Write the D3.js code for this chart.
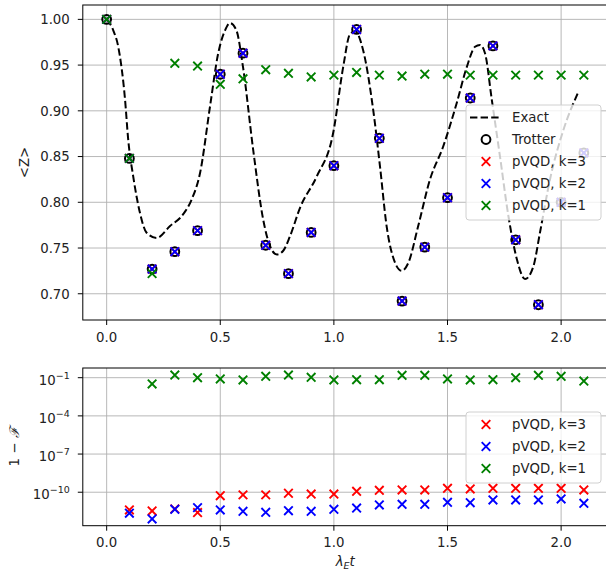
<!DOCTYPE html>
<html>
<head>
<meta charset="utf-8">
<script src="https://cdn.jsdelivr.net/npm/d3@7"></script>
<style>
  body { margin: 0; background: #fff; }
  text { font-family: "DejaVu Sans", sans-serif; fill: #222; }
</style>
</head>
<body>
<script>
'use strict';

// time steps of the simulation
var times = [0, 0.1, 0.2, 0.3, 0.4, 0.5, 0.6, 0.7, 0.8, 0.9, 1.0,
  1.1, 1.2, 1.3, 1.4, 1.5, 1.6, 1.7, 1.8, 1.9, 2.0, 2.1];

// <Z> values (Trotter, and pVQD k=3 / k=2 sit on top of it)
var trotterZ = [1.000, 0.848, 0.727, 0.746, 0.769, 0.940, 0.963, 0.753, 0.722, 0.767, 0.840,
  0.989, 0.870, 0.692, 0.751, 0.805, 0.914, 0.971, 0.759, 0.688, 0.800, 0.854];
var k3Z = trotterZ.slice();
var k2Z = trotterZ.slice();
var k1Z = [1.000, 0.848, 0.722, 0.952, 0.949, 0.929, 0.935, 0.945, 0.941, 0.937, 0.939,
  0.942, 0.939, 0.938, 0.940, 0.940, 0.939, 0.939, 0.939, 0.939, 0.939, 0.939];

// exact curve
var exactT = [0.000, 0.029, 0.051, 0.081, 0.095, 0.117, 0.146, 0.175, 0.220, 0.279, 0.337,
  0.374, 0.411, 0.455, 0.491, 0.521, 0.543, 0.571, 0.600, 0.645, 0.689, 0.719, 0.749,
  0.777, 0.807, 0.851, 0.924, 0.997, 1.041, 1.071, 1.093, 1.129, 1.173, 1.203, 1.232,
  1.269, 1.298, 1.328, 1.371, 1.423, 1.481, 1.540, 1.585, 1.621, 1.643, 1.665, 1.695,
  1.731, 1.768, 1.805, 1.841, 1.878, 1.907, 1.951, 2.010, 2.073];
var exactZ = [1.000, 0.988, 0.970, 0.912, 0.868, 0.828, 0.789, 0.767, 0.761, 0.774, 0.787,
  0.803, 0.832, 0.905, 0.963, 0.988, 0.996, 0.988, 0.948, 0.857, 0.781, 0.752, 0.743,
  0.747, 0.763, 0.794, 0.828, 0.876, 0.948, 0.984, 0.987, 0.966, 0.901, 0.839, 0.774,
  0.734, 0.725, 0.734, 0.774, 0.825, 0.861, 0.908, 0.948, 0.970, 0.972, 0.963, 0.912,
  0.850, 0.785, 0.738, 0.716, 0.730, 0.767, 0.825, 0.879, 0.919];

// infidelity 1-F, as log10 (k=3, k=2 from t=0.1; k=1 from t=0.2)
var infT = times.slice(1);
var infT1 = times.slice(2);
var k3Log = [-11.39, -11.47, -11.31, -11.60, -10.27, -10.21, -10.21, -10.08, -10.14, -10.14,
  -9.93, -9.85, -9.82, -9.82, -9.69, -9.74, -9.69, -9.69, -9.69, -9.69, -9.82];
var k2Log = [-11.65, -12.10, -11.34, -11.21, -11.39, -11.50, -11.58, -11.45, -11.50, -11.34,
  -11.24, -11.00, -10.95, -10.95, -10.79, -10.82, -10.61, -10.61, -10.61, -10.53, -10.87];
var k1Log = [-1.49, -0.79, -1.00, -1.10, -1.18, -0.89, -0.79, -0.97, -1.18,
  -1.16, -1.16, -0.81, -0.81, -1.10, -1.18, -1.16, -1.00, -0.81, -0.89, -1.26];

var xTicks = [0, 0.5, 1.0, 1.5, 2.0];
var zTicks = [0.70, 0.75, 0.80, 0.85, 0.90, 0.95, 1.00];
var infTicks = [-1, -4, -7, -10];

var W = 606, H = 571;
var L = 82.8, R = 607.7;
var topBox = {t: 5, b: 320};
var botBox = {t: 368, b: 525.7};

var svg = d3.select('body').append('svg').attr('width', W).attr('height', H);

var x = d3.scaleLinear().domain([-0.105, 2.205]).range([L, R]);
var yZ = d3.scaleLinear().domain([0.6713, 1.0157]).range([topBox.b, topBox.t]);
var yF = d3.scaleLog().domain([Math.pow(10, -12.63), Math.pow(10, -0.238)]).range([botBox.b, botBox.t]);

var defs = svg.append('defs');
defs.append('clipPath').attr('id', 'clipTop').append('rect')
  .attr('x', L).attr('y', topBox.t).attr('width', R - L).attr('height', topBox.b - topBox.t);
defs.append('clipPath').attr('id', 'clipBot').append('rect')
  .attr('x', L).attr('y', botBox.t).attr('width', R - L).attr('height', botBox.b - botBox.t);

function grid(box, yScale, yVals) {
  var g = svg.append('g').attr('stroke', '#b0b0b0').attr('stroke-width', 0.9);
  xTicks.forEach(function(t) {
    g.append('line').attr('x1', x(t)).attr('x2', x(t)).attr('y1', box.t).attr('y2', box.b);
  });
  yVals.forEach(function(v) {
    g.append('line').attr('x1', L).attr('x2', R).attr('y1', yScale(v)).attr('y2', yScale(v));
  });
}
grid(topBox, yZ, zTicks);
grid(botBox, yF, infTicks.map(function(e) { return Math.pow(10, e); }));

function cross(g, cx, cy, color) {
  var s = 4.3;
  g.append('path')
    .attr('d', 'M' + (cx - s) + ',' + (cy - s) + 'L' + (cx + s) + ',' + (cy + s) +
      'M' + (cx - s) + ',' + (cy + s) + 'L' + (cx + s) + ',' + (cy - s))
    .attr('stroke', color).attr('stroke-width', 1.9).attr('fill', 'none');
}
function ring(g, cx, cy) {
  g.append('circle').attr('cx', cx).attr('cy', cy).attr('r', 4.4)
    .attr('fill', 'none').attr('stroke', '#000').attr('stroke-width', 2);
}

var dash = '7.4,3.2';

// top panel
var gTop = svg.append('g').attr('clip-path', 'url(#clipTop)');
var exact = exactT.map(function(t, i) { return [t, exactZ[i]]; });
gTop.append('path').datum(exact)
  .attr('d', d3.line().x(function(d) { return x(d[0]); }).y(function(d) { return yZ(d[1]); })
    .curve(d3.curveMonotoneX))
  .attr('fill', 'none').attr('stroke', '#000').attr('stroke-width', 2)
  .attr('stroke-dasharray', dash);
times.forEach(function(t, i) { ring(gTop, x(t), yZ(trotterZ[i])); });
times.forEach(function(t, i) { cross(gTop, x(t), yZ(k3Z[i]), '#ff0000'); });
times.forEach(function(t, i) { cross(gTop, x(t), yZ(k2Z[i]), '#0000ff'); });
times.forEach(function(t, i) { cross(gTop, x(t), yZ(k1Z[i]), '#008000'); });

// bottom panel
var gBot = svg.append('g').attr('clip-path', 'url(#clipBot)');
[[infT, k3Log, '#ff0000'], [infT, k2Log, '#0000ff'], [infT1, k1Log, '#008000']].forEach(function(s) {
  s[0].forEach(function(t, i) { cross(gBot, x(t), yF(Math.pow(10, s[1][i])), s[2]); });
});

// frames, ticks, labels
function frame(box) {
  svg.append('rect').attr('x', L).attr('y', box.t).attr('width', R - L).attr('height', box.b - box.t)
    .attr('fill', 'none').attr('stroke', '#000').attr('stroke-width', 1);
}
frame(topBox);
frame(botBox);

function xAxis(box) {
  var g = svg.append('g');
  xTicks.forEach(function(t) {
    g.append('line').attr('x1', x(t)).attr('x2', x(t)).attr('y1', box.b).attr('y2', box.b + 5)
      .attr('stroke', '#000');
    g.append('text').attr('x', x(t)).attr('y', box.b + 21.5).attr('text-anchor', 'middle')
      .attr('font-size', 13.3).text(d3.format('.1f')(t));
  });
}
xAxis(topBox);
xAxis(botBox);

var gy = svg.append('g');
zTicks.forEach(function(v) {
  gy.append('line').attr('x1', L - 5).attr('x2', L).attr('y1', yZ(v)).attr('y2', yZ(v)).attr('stroke', '#000');
  gy.append('text').attr('x', L - 13).attr('y', yZ(v) + 4.8).attr('text-anchor', 'end')
    .attr('font-size', 13.3).text(d3.format('.2f')(v));
});
infTicks.forEach(function(e) {
  var yy = yF(Math.pow(10, e));
  gy.append('line').attr('x1', L - 5).attr('x2', L).attr('y1', yy).attr('y2', yy).attr('stroke', '#000');
  var tx = gy.append('text').attr('x', L - 13).attr('y', yy + 7).attr('text-anchor', 'end')
    .attr('font-size', 13.3);
  tx.append('tspan').text('10');
  tx.append('tspan').attr('font-size', 9.5).attr('dy', -6).text('\u2212' + Math.abs(e));
});

svg.append('text').attr('transform', 'translate(29,' + ((topBox.t + topBox.b) / 2) + ') rotate(-90)')
  .attr('text-anchor', 'middle').attr('font-size', 13.3).text('<Z>');
svg.append('text').attr('transform', 'translate(19,' + ((botBox.t + botBox.b) / 2) + ') rotate(-90)')
  .attr('text-anchor', 'middle').attr('font-size', 13.3)
  .html('1 \u2212 <tspan font-style="italic" font-family="DejaVu Serif">\u2131</tspan>');

var xl = svg.append('text').attr('x', (L + R) / 2).attr('y', 566).attr('text-anchor', 'middle')
  .attr('font-size', 13.3).attr('font-style', 'italic');
xl.append('tspan').text('\u03bb');
xl.append('tspan').attr('font-size', 9.5).attr('dy', 3).text('E');
xl.append('tspan').attr('dy', -3).text('t');

// legends
function legend(top, bottom, entries) {
  var g = svg.append('g');
  g.append('rect').attr('x', 466).attr('y', top).attr('width', 135).attr('height', bottom - top)
    .attr('rx', 3).attr('fill', '#fff').attr('fill-opacity', 0.8)
    .attr('stroke', '#d0d0d0').attr('stroke-width', 1);
  entries.forEach(function(en, i) {
    var cy = top + 12.5 + i * 22;
    if (en.kind === 'line') {
      g.append('line').attr('x1', 470).attr('x2', 500).attr('y1', cy).attr('y2', cy)
        .attr('stroke', '#000').attr('stroke-width', 2).attr('stroke-dasharray', dash);
    } else if (en.kind === 'ring') {
      ring(g, 486, cy);
    } else {
      cross(g, 486, cy, en.color);
    }
    g.append('text').attr('x', 512).attr('y', cy + 4.8).attr('font-size', 13.3).text(en.label);
  });
}
var seriesLegend = [
  {kind: 'x', color: '#ff0000', label: 'pVQD, k=3'},
  {kind: 'x', color: '#0000ff', label: 'pVQD, k=2'},
  {kind: 'x', color: '#008000', label: 'pVQD, k=1'}
];
legend(105, 220, [{kind: 'line', label: 'Exact'}, {kind: 'ring', label: 'Trotter'}].concat(seriesLegend));
legend(412, 483, seriesLegend);
</script>
</body>
</html>
